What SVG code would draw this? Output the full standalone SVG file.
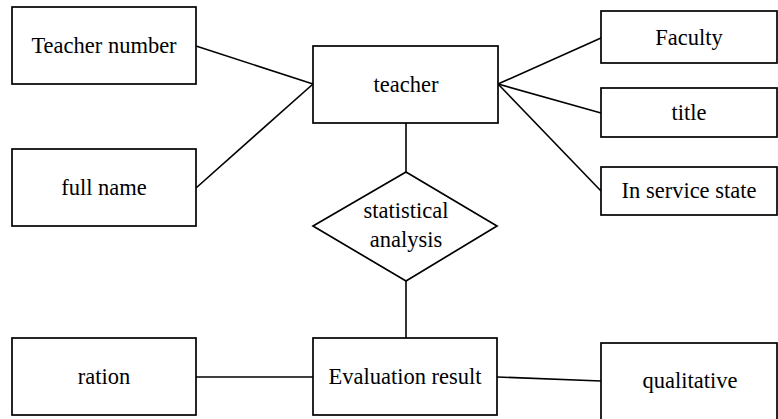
<svg xmlns="http://www.w3.org/2000/svg" width="778" height="419" viewBox="0 0 778 419">
<style>
.box{fill:#fff;stroke:#000;stroke-width:1.7}
.ln{stroke:#000;stroke-width:1.6;fill:none}
.t{font-family:'Liberation Serif','Times New Roman',serif;font-size:22.5px;fill:#000;text-anchor:middle}
</style>
<rect width="778" height="419" fill="#fff"/>
<g id="connectors">
<line class="ln" x1="196" y1="46" x2="313" y2="84"/>
<line class="ln" x1="196" y1="188" x2="313" y2="84"/>
<line class="ln" x1="498" y1="84" x2="601" y2="38"/>
<line class="ln" x1="498" y1="84" x2="601" y2="113"/>
<line class="ln" x1="498" y1="84" x2="601" y2="191"/>
<line class="ln" x1="406" y1="123" x2="406" y2="172"/>
<line class="ln" x1="406" y1="281" x2="406" y2="338"/>
<line class="ln" x1="196" y1="377" x2="313" y2="377"/>
<line class="ln" x1="497" y1="377" x2="601" y2="381"/>
</g>
<g id="teacher-number"><rect class="box" x="12" y="7" width="184" height="77"/><text class="t" x="104" y="53">Teacher number</text></g>
<g id="full-name"><rect class="box" x="12" y="149" width="184" height="77"/><text class="t" x="104" y="195">full name</text></g>
<g id="teacher"><rect class="box" x="313" y="46" width="185" height="77"/><text class="t" x="406" y="92">teacher</text></g>
<g id="faculty"><rect class="box" x="601" y="11" width="176" height="52"/><text class="t" x="689" y="45">Faculty</text></g>
<g id="title"><rect class="box" x="601" y="88" width="176" height="49"/><text class="t" x="689" y="120">title</text></g>
<g id="in-service-state"><rect class="box" x="601" y="167" width="176" height="48"/><text class="t" x="689" y="198">In service state</text></g>
<g id="statistical-analysis"><polygon class="box" points="406,172 497,226 406,281 313,226"/><text class="t" x="406" y="218">statistical</text><text class="t" x="406" y="247">analysis</text></g>
<g id="ration"><rect class="box" x="12" y="338" width="184" height="77"/><text class="t" x="104" y="384">ration</text></g>
<g id="evaluation-result"><rect class="box" x="313" y="338" width="184" height="77"/><text class="t" x="405" y="384">Evaluation result</text></g>
<g id="qualitative"><rect class="box" x="601" y="343" width="176" height="80"/><text class="t" x="690" y="388">qualitative</text></g>
</svg>
